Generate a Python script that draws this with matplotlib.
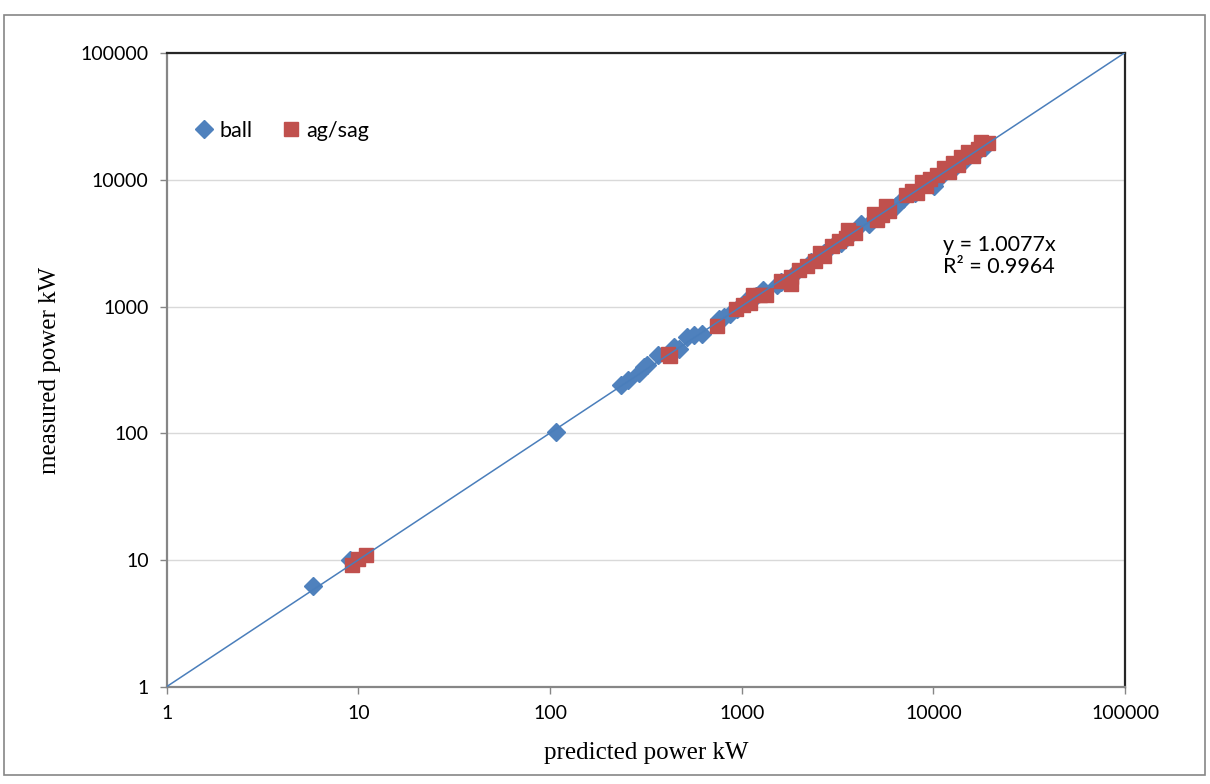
import numpy as np
import matplotlib.pyplot as plt
from matplotlib.patches import Rectangle

# ball mills: predicted vs measured power (kW)
ball_pred = [5.8, 9.0, 108, 235, 255, 290, 310, 320, 365, 445, 470, 520, 565, 620,
             760, 810, 870, 940, 1050, 1180, 1290, 1530, 1600, 1900, 2300, 2700,
             3050, 3300, 3700, 4200, 4600, 5200, 6400, 6900, 8000, 10100, 11000,
             12500, 14500, 16500, 18500]
ball_meas = [6.3, 10.0, 103, 240, 262, 300, 335, 345, 414, 483, 465, 575, 594, 610,
             800, 830, 880, 950, 1100, 1220, 1350, 1480, 1560, 1850, 2250, 2650,
             3100, 3200, 3750, 4500, 4500, 5100, 6200, 7000, 7800, 9000, 10700,
             12000, 14000, 16000, 18000]

# ag/sag mills
sag_pred = [9.3, 10.0, 10.9, 410, 420, 740, 930, 1010, 1100, 1150, 1250, 1340, 1600,
            1800, 1800, 2000, 2200, 2400, 2550, 2700, 2950, 3200, 3500, 3600, 3900,
            4900, 5100, 5400, 5650, 5900, 7200, 7700, 8200, 8700, 9200, 9600, 10400,
            11400, 12000, 12600, 13500, 14000, 15200, 16000, 17000, 17800, 19200]
sag_meas = [9.2, 10.3, 11.0, 420, 410, 700, 960, 1030, 1060, 1230, 1230, 1240, 1600,
            1700, 1520, 1940, 2100, 2300, 2650, 2500, 3000, 3300, 3500, 4000, 3800,
            5400, 4800, 5300, 6200, 5700, 7600, 8200, 7900, 9600, 9000, 10100, 10900,
            12400, 11500, 13600, 13000, 15200, 16700, 15500, 17500, 19700, 19600]

slope = 1.0077
r2 = 0.9964
decades = [1, 10, 100, 1000, 10000, 100000]

tick_font = "Lato"
title_font = "Liberation Serif"
grey = "#868686"

fig = plt.figure(figsize=(12.1, 7.84), dpi=100)
ax = fig.add_axes([0.1378, 0.1237, 0.792, 0.8087])

# outer chart border
fig.patches.append(Rectangle((0.0033, 0.0115), 0.9926, 0.9694, transform=fig.transFigure,
                             fill=False, edgecolor=grey, linewidth=1.2))

ax.plot(ball_pred, ball_meas, linestyle="none", marker="D", markersize=9,
        color="#4F81BD", label="ball", zorder=3)
ax.plot(sag_pred, sag_meas, linestyle="none", marker="s", markersize=9.5,
        color="#C0504D", label="ag/sag", zorder=4)

xs = np.array([1, 100000])
ax.plot(xs, slope * xs, color="#4A7EBB", linewidth=1.1, zorder=5)

ax.set_xscale("log")
ax.set_yscale("log")
ax.set_xlim(1, 100000)
ax.set_ylim(1, 100000)
ax.set_xticks(decades)
ax.set_yticks(decades)
ax.set_xticklabels([str(d) for d in decades])
ax.set_yticklabels([str(d) for d in decades])
ax.minorticks_off()
ax.tick_params(axis="both", which="major", direction="out", length=5, width=1,
               color=grey, labelsize=14, pad=8)
for lab in ax.get_xticklabels() + ax.get_yticklabels():
    lab.set_fontfamily(tick_font)

ax.grid(axis="y", color="#D9D9D9", linewidth=1)
ax.set_axisbelow(True)

for side in ["left", "bottom"]:
    ax.spines[side].set_color(grey)
    ax.spines[side].set_linewidth(1.6)
for side in ["top", "right"]:
    ax.spines[side].set_color("#262626")
    ax.spines[side].set_linewidth(1.6)

ax.set_xlabel("predicted power kW", fontfamily=title_font, fontsize=18, labelpad=14)
ax.set_ylabel("measured power kW", fontfamily=title_font, fontsize=18, labelpad=14)

ax.legend(loc="center left", bbox_to_anchor=(0.01, 0.877), ncol=2, frameon=False,
          handlelength=0.8, handletextpad=0.3, columnspacing=1.4,
          prop={"family": tick_font, "size": 15.5})

ax.text(0.81, 0.68, f"y = {slope}x\nR² = {r2}", transform=ax.transAxes,
        ha="left", va="center", fontsize=15.5, fontfamily=tick_font, linespacing=1.15)

fig.savefig("out.png", dpi=100)
